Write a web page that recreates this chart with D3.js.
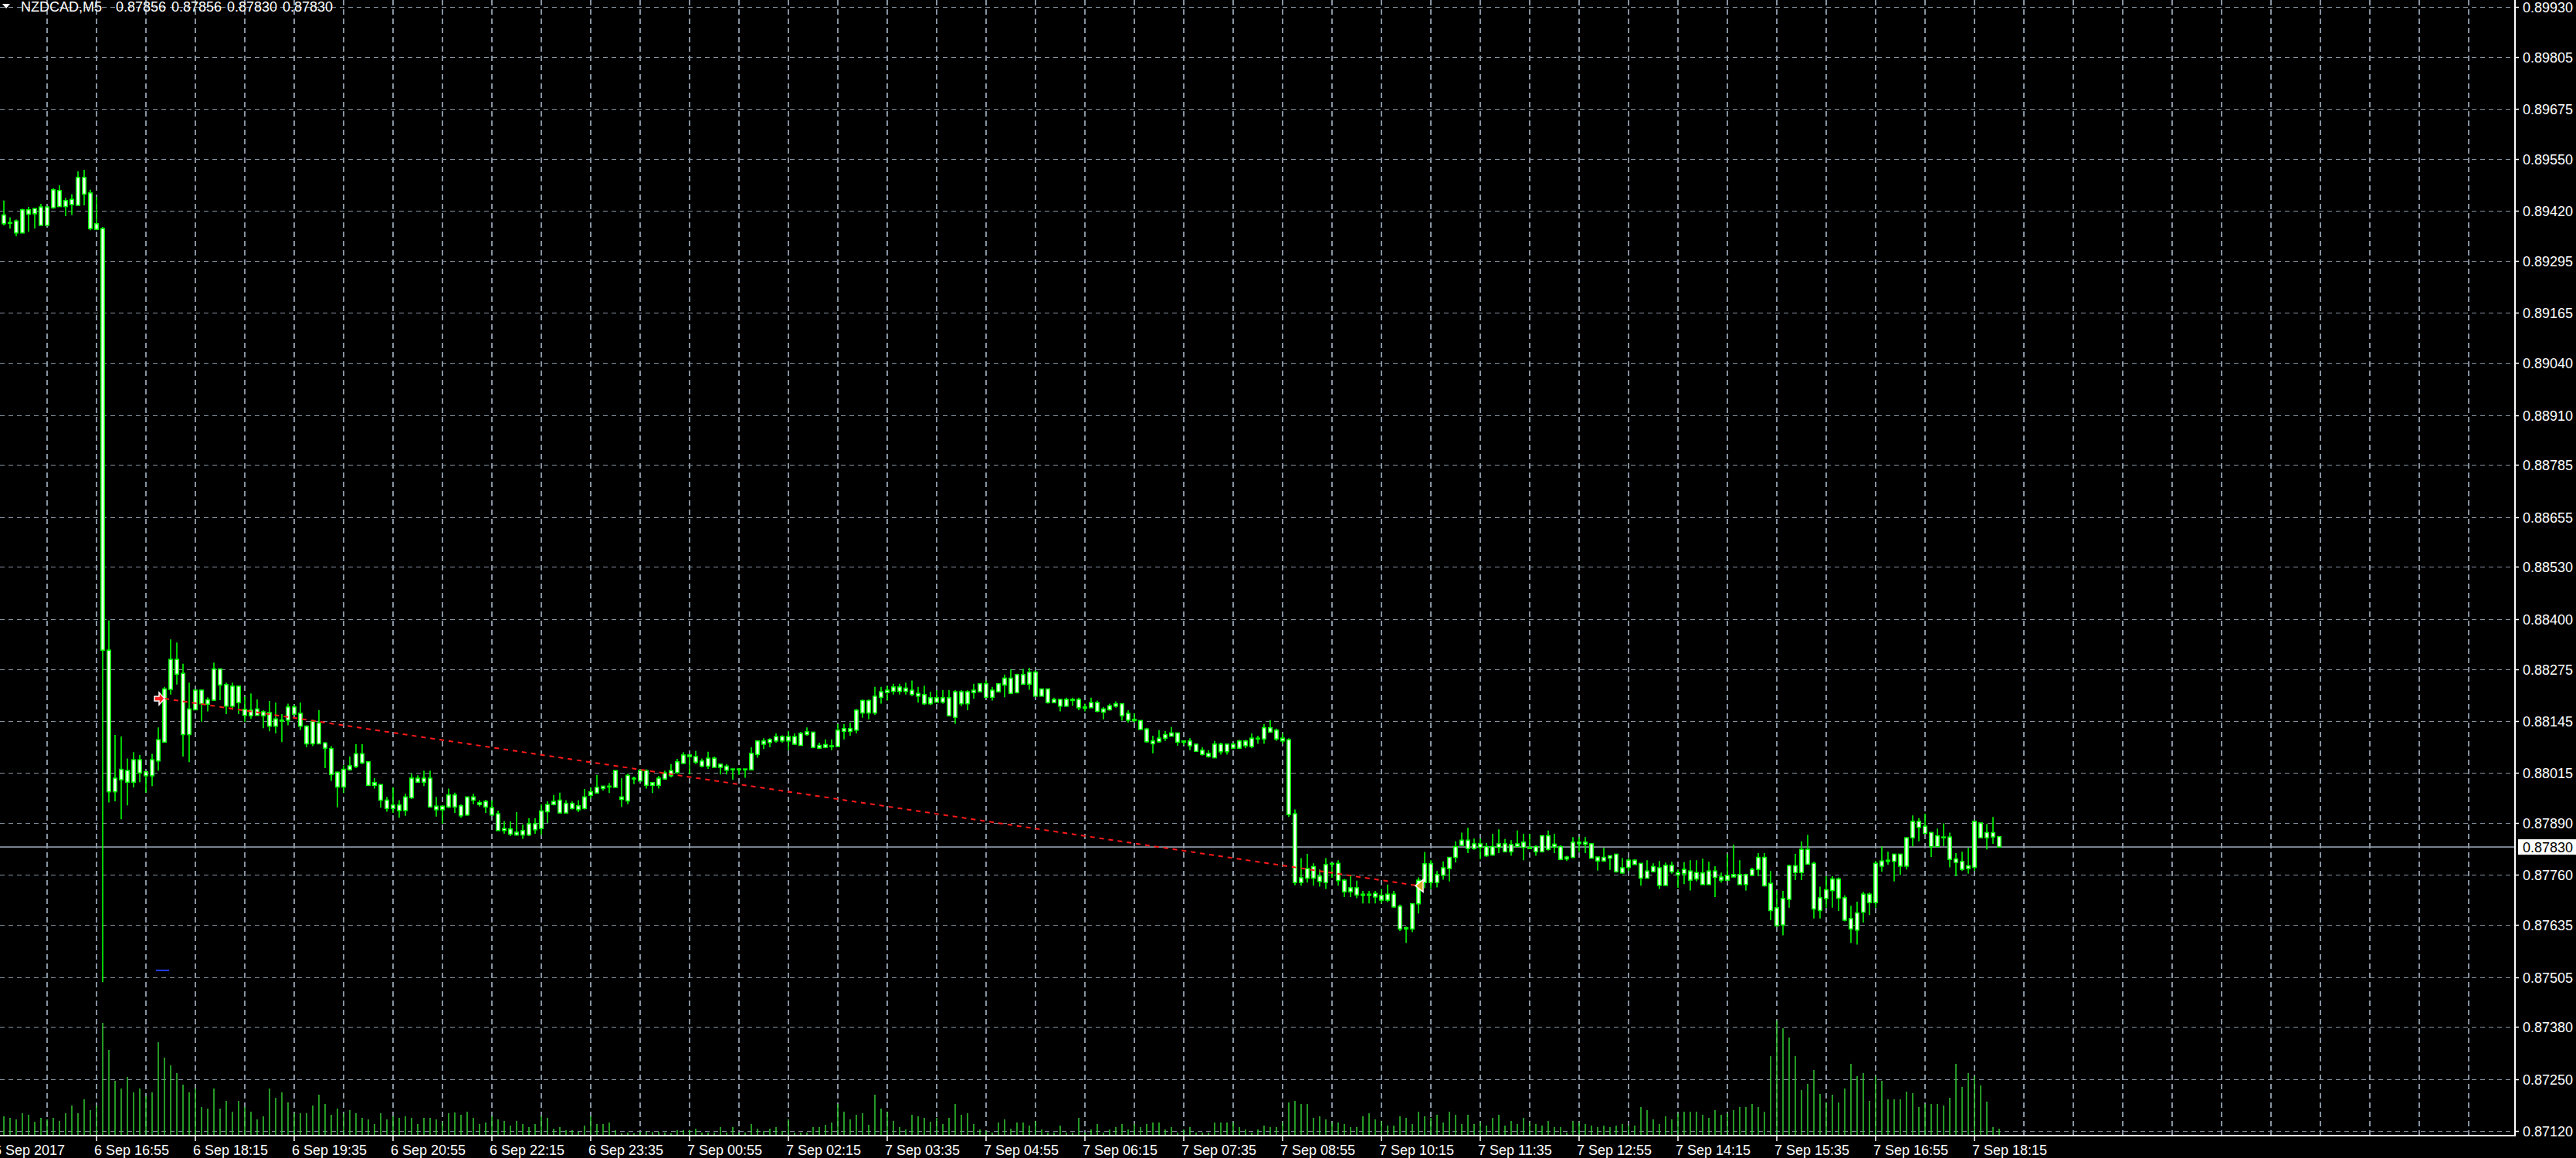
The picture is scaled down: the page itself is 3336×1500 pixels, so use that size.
<!DOCTYPE html>
<html><head><meta charset="utf-8">
<script src="https://cdn.jsdelivr.net/npm/d3@7"></script>
<style>
html,body{margin:0;padding:0;background:#000;overflow:hidden}
svg{display:block}
text{font-family:"Liberation Sans",Arial,sans-serif;font-size:18px}
</style>
</head><body>
<svg id="chart" width="3336" height="1500"></svg>
<script>
// ---------------- DATA ----------------
const symbolTitle = "NZDCAD,M5";
const lastOHLC = ["0.87856", "0.87856", "0.87830", "0.87830"];

const open = [0.89388,0.89391,0.89395,0.89365,0.89423,0.89413,0.89430,0.89384,0.89428,0.89471,0.89431,0.89449,0.89434,0.89504,0.89465,0.89374,
0.89376,0.88322,0.87968,0.87998,0.88021,0.87992,0.88048,0.88018,0.88008,0.88045,0.88092,0.88224,0.88299,0.88264,0.88111,0.88173,
0.88222,0.88187,0.88197,0.88275,0.88236,0.88182,0.88232,0.88174,0.88158,0.88175,0.88158,0.88166,0.88132,0.88147,0.88147,0.88180,
0.88164,0.88132,0.88088,0.88140,0.88090,0.88076,0.88017,0.87980,0.88023,0.88031,0.88063,0.88043,0.87984,0.87986,0.87947,0.87926,
0.87935,0.87921,0.87953,0.88002,0.87992,0.88002,0.87932,0.87923,0.87930,0.87960,0.87933,0.87910,0.87955,0.87941,0.87930,0.87928,
0.87913,0.87871,0.87875,0.87860,0.87871,0.87860,0.87888,0.87876,0.87918,0.87936,0.87947,0.87915,0.87939,0.87923,0.87926,0.87959,
0.87965,0.87982,0.87980,0.87979,0.87955,0.87945,0.88002,0.87995,0.88021,0.87984,0.87984,0.88000,0.88008,0.88016,0.88039,0.88060,
0.88056,0.88045,0.88032,0.88052,0.88029,0.88032,0.88023,0.88025,0.88023,0.88023,0.88061,0.88095,0.88091,0.88095,0.88106,0.88095,
0.88106,0.88084,0.88111,0.88117,0.88077,0.88086,0.88081,0.88081,0.88119,0.88126,0.88122,0.88165,0.88196,0.88165,0.88204,0.88216,
0.88219,0.88230,0.88219,0.88222,0.88214,0.88211,0.88188,0.88203,0.88192,0.88203,0.88154,0.88218,0.88188,0.88216,0.88218,0.88238,
0.88204,0.88218,0.88235,0.88252,0.88216,0.88261,0.88237,0.88267,0.88207,0.88225,0.88191,0.88199,0.88182,0.88199,0.88199,0.88177,
0.88178,0.88191,0.88167,0.88173,0.88182,0.88188,0.88164,0.88146,0.88146,0.88125,0.88095,0.88093,0.88102,0.88107,0.88115,0.88092,
0.88095,0.88087,0.88072,0.88064,0.88053,0.88087,0.88068,0.88087,0.88077,0.88095,0.88081,0.88102,0.88100,0.88128,0.88122,0.88102,
0.88098,0.87913,0.87741,0.87752,0.87781,0.87757,0.87741,0.87787,0.87789,0.87747,0.87718,0.87728,0.87709,0.87712,0.87705,0.87709,
0.87697,0.87712,0.87682,0.87625,0.87625,0.87688,0.87741,0.87788,0.87741,0.87759,0.87776,0.87804,0.87834,0.87847,0.87826,0.87838,
0.87831,0.87810,0.87829,0.87838,0.87818,0.87831,0.87842,0.87829,0.87831,0.87818,0.87858,0.87830,0.87831,0.87800,0.87804,0.87842,
0.87837,0.87838,0.87805,0.87795,0.87802,0.87812,0.87765,0.87779,0.87797,0.87789,0.87752,0.87768,0.87778,0.87734,0.87784,0.87766,
0.87763,0.87770,0.87750,0.87765,0.87736,0.87770,0.87755,0.87747,0.87755,0.87761,0.87736,0.87759,0.87774,0.87804,0.87739,0.87678,
0.87635,0.87699,0.87783,0.87766,0.87824,0.87789,0.87671,0.87701,0.87721,0.87750,0.87703,0.87651,0.87622,0.87667,0.87712,0.87691,
0.87795,0.87794,0.87794,0.87812,0.87782,0.87853,0.87894,0.87882,0.87866,0.87831,0.87855,0.87855,0.87800,0.87794,0.87776,0.87779,
0.87890,0.87853,0.87866,0.87856];

const high = [0.89446,0.89404,0.89399,0.89426,0.89430,0.89426,0.89438,0.89430,0.89477,0.89484,0.89453,0.89462,0.89519,0.89523,0.89473,0.89455,
0.89380,0.88396,0.88110,0.88106,0.88051,0.88067,0.88060,0.88018,0.88063,0.88129,0.88230,0.88349,0.88341,0.88288,0.88241,0.88224,
0.88224,0.88204,0.88291,0.88276,0.88241,0.88241,0.88232,0.88206,0.88214,0.88199,0.88172,0.88195,0.88191,0.88162,0.88188,0.88185,
0.88191,0.88134,0.88148,0.88172,0.88092,0.88082,0.88018,0.88034,0.88056,0.88087,0.88087,0.88043,0.88002,0.87986,0.87955,0.87979,
0.87947,0.87963,0.88013,0.88009,0.88021,0.88021,0.87955,0.87934,0.87976,0.87966,0.87937,0.87955,0.87963,0.87947,0.87948,0.87947,
0.87921,0.87895,0.87894,0.87917,0.87886,0.87902,0.87902,0.87937,0.87944,0.87960,0.87966,0.87947,0.87944,0.87947,0.87975,0.87979,
0.88010,0.87982,0.87990,0.88021,0.88002,0.88013,0.88006,0.88024,0.88024,0.87991,0.88008,0.88021,0.88037,0.88050,0.88067,0.88061,
0.88070,0.88051,0.88068,0.88056,0.88037,0.88037,0.88025,0.88027,0.88025,0.88079,0.88095,0.88102,0.88102,0.88114,0.88109,0.88120,
0.88114,0.88118,0.88129,0.88118,0.88091,0.88099,0.88099,0.88137,0.88137,0.88141,0.88175,0.88199,0.88199,0.88230,0.88230,0.88233,
0.88238,0.88238,0.88241,0.88246,0.88230,0.88233,0.88218,0.88222,0.88222,0.88222,0.88222,0.88222,0.88222,0.88238,0.88238,0.88246,
0.88230,0.88238,0.88261,0.88274,0.88263,0.88275,0.88278,0.88272,0.88225,0.88225,0.88203,0.88201,0.88203,0.88203,0.88203,0.88188,
0.88203,0.88196,0.88180,0.88188,0.88194,0.88188,0.88172,0.88164,0.88146,0.88128,0.88108,0.88122,0.88120,0.88130,0.88115,0.88095,
0.88102,0.88087,0.88079,0.88072,0.88095,0.88091,0.88087,0.88091,0.88098,0.88098,0.88114,0.88108,0.88137,0.88147,0.88126,0.88114,
0.88102,0.87924,0.87802,0.87813,0.87789,0.87774,0.87802,0.87789,0.87797,0.87750,0.87760,0.87746,0.87720,0.87720,0.87720,0.87725,
0.87736,0.87720,0.87686,0.87631,0.87689,0.87754,0.87817,0.87797,0.87770,0.87794,0.87804,0.87844,0.87866,0.87878,0.87851,0.87851,
0.87840,0.87863,0.87874,0.87850,0.87847,0.87871,0.87863,0.87863,0.87834,0.87858,0.87871,0.87863,0.87834,0.87808,0.87855,0.87855,
0.87855,0.87840,0.87805,0.87828,0.87808,0.87813,0.87802,0.87802,0.87799,0.87789,0.87797,0.87789,0.87795,0.87791,0.87793,0.87774,
0.87792,0.87797,0.87797,0.87801,0.87793,0.87782,0.87766,0.87812,0.87836,0.87797,0.87763,0.87778,0.87815,0.87815,0.87770,0.87721,
0.87720,0.87786,0.87813,0.87844,0.87860,0.87793,0.87731,0.87757,0.87757,0.87754,0.87709,0.87683,0.87693,0.87718,0.87716,0.87795,
0.87831,0.87818,0.87813,0.87813,0.87855,0.87909,0.87902,0.87913,0.87868,0.87876,0.87889,0.87866,0.87815,0.87818,0.87828,0.87894,
0.87890,0.87887,0.87905,0.87856];

const low = [0.89384,0.89376,0.89357,0.89365,0.89368,0.89376,0.89384,0.89384,0.89426,0.89430,0.89407,0.89410,0.89434,0.89434,0.89372,0.89372,
0.87492,0.87941,0.87944,0.87899,0.87934,0.87979,0.87992,0.87966,0.87982,0.88021,0.88092,0.88211,0.88236,0.88056,0.88042,0.88172,
0.88143,0.88169,0.88195,0.88197,0.88162,0.88173,0.88162,0.88143,0.88150,0.88159,0.88127,0.88119,0.88114,0.88092,0.88134,0.88162,
0.88122,0.88079,0.88082,0.88088,0.88027,0.87995,0.87929,0.87965,0.88021,0.88027,0.88037,0.87982,0.87976,0.87928,0.87918,0.87915,
0.87903,0.87908,0.87950,0.87992,0.87982,0.87930,0.87906,0.87888,0.87927,0.87915,0.87903,0.87908,0.87937,0.87931,0.87915,0.87908,
0.87871,0.87863,0.87857,0.87858,0.87850,0.87857,0.87863,0.87860,0.87890,0.87934,0.87915,0.87915,0.87924,0.87917,0.87924,0.87952,
0.87965,0.87971,0.87965,0.87978,0.87930,0.87937,0.87987,0.87995,0.87976,0.87965,0.87976,0.87998,0.88004,0.88013,0.88037,0.88011,
0.88037,0.88029,0.88025,0.88029,0.88011,0.88011,0.87998,0.88010,0.88003,0.88023,0.88053,0.88075,0.88079,0.88091,0.88091,0.88072,
0.88085,0.88084,0.88108,0.88077,0.88075,0.88077,0.88072,0.88081,0.88099,0.88108,0.88114,0.88153,0.88149,0.88160,0.88188,0.88196,
0.88211,0.88211,0.88211,0.88207,0.88191,0.88185,0.88185,0.88191,0.88188,0.88158,0.88138,0.88182,0.88172,0.88201,0.88218,0.88204,
0.88196,0.88218,0.88204,0.88212,0.88214,0.88237,0.88223,0.88207,0.88207,0.88188,0.88191,0.88169,0.88180,0.88183,0.88172,0.88169,
0.88178,0.88167,0.88149,0.88171,0.88178,0.88146,0.88141,0.88141,0.88122,0.88091,0.88064,0.88091,0.88095,0.88106,0.88083,0.88085,
0.88072,0.88068,0.88059,0.88053,0.88053,0.88061,0.88061,0.88075,0.88075,0.88077,0.88077,0.88088,0.88088,0.88117,0.88095,0.88088,
0.87905,0.87734,0.87733,0.87741,0.87733,0.87731,0.87725,0.87753,0.87733,0.87705,0.87705,0.87702,0.87689,0.87689,0.87689,0.87689,
0.87692,0.87678,0.87620,0.87590,0.87617,0.87664,0.87727,0.87725,0.87729,0.87748,0.87744,0.87791,0.87832,0.87815,0.87823,0.87799,
0.87805,0.87808,0.87815,0.87818,0.87808,0.87831,0.87797,0.87826,0.87808,0.87818,0.87821,0.87815,0.87797,0.87795,0.87802,0.87818,
0.87815,0.87802,0.87771,0.87793,0.87773,0.87766,0.87763,0.87770,0.87786,0.87733,0.87752,0.87768,0.87725,0.87733,0.87763,0.87728,
0.87737,0.87721,0.87744,0.87736,0.87736,0.87705,0.87741,0.87747,0.87755,0.87736,0.87721,0.87757,0.87757,0.87731,0.87647,0.87631,
0.87609,0.87678,0.87747,0.87747,0.87786,0.87651,0.87651,0.87678,0.87678,0.87670,0.87644,0.87590,0.87586,0.87641,0.87660,0.87678,
0.87768,0.87786,0.87744,0.87760,0.87774,0.87831,0.87844,0.87863,0.87805,0.87830,0.87832,0.87779,0.87757,0.87770,0.87763,0.87770,
0.87853,0.87824,0.87838,0.87830];

const close = [0.89410,0.89389,0.89365,0.89423,0.89412,0.89426,0.89384,0.89430,0.89473,0.89431,0.89446,0.89436,0.89504,0.89462,0.89376,0.89388,
0.88322,0.87968,0.88002,0.88024,0.87992,0.88048,0.88015,0.88008,0.88048,0.88098,0.88225,0.88299,0.88262,0.88111,0.88175,0.88222,
0.88188,0.88198,0.88275,0.88235,0.88182,0.88232,0.88191,0.88159,0.88172,0.88159,0.88168,0.88132,0.88150,0.88145,0.88180,0.88162,
0.88132,0.88088,0.88144,0.88088,0.88077,0.88011,0.87980,0.88024,0.88033,0.88063,0.88040,0.87984,0.87991,0.87947,0.87926,0.87935,
0.87921,0.87955,0.88002,0.87992,0.88002,0.87930,0.87923,0.87932,0.87960,0.87930,0.87908,0.87955,0.87947,0.87936,0.87944,0.87910,
0.87871,0.87876,0.87862,0.87867,0.87860,0.87888,0.87873,0.87920,0.87936,0.87944,0.87915,0.87939,0.87926,0.87933,0.87955,0.87968,
0.87979,0.87976,0.87982,0.88021,0.87949,0.88009,0.88000,0.88021,0.87984,0.87991,0.88002,0.88015,0.88021,0.88043,0.88060,0.88056,
0.88042,0.88032,0.88052,0.88029,0.88037,0.88022,0.88025,0.88023,0.88025,0.88064,0.88095,0.88087,0.88099,0.88106,0.88095,0.88106,
0.88087,0.88114,0.88118,0.88079,0.88084,0.88079,0.88083,0.88122,0.88126,0.88119,0.88172,0.88196,0.88165,0.88207,0.88218,0.88222,
0.88230,0.88219,0.88227,0.88211,0.88207,0.88188,0.88203,0.88192,0.88203,0.88158,0.88218,0.88188,0.88218,0.88222,0.88238,0.88204,
0.88222,0.88238,0.88252,0.88214,0.88261,0.88237,0.88267,0.88207,0.88225,0.88191,0.88199,0.88182,0.88199,0.88196,0.88178,0.88180,
0.88191,0.88169,0.88175,0.88183,0.88188,0.88158,0.88147,0.88149,0.88124,0.88093,0.88088,0.88102,0.88111,0.88115,0.88092,0.88095,
0.88083,0.88069,0.88061,0.88056,0.88087,0.88068,0.88087,0.88077,0.88095,0.88083,0.88102,0.88100,0.88128,0.88117,0.88100,0.88095,
0.87911,0.87741,0.87753,0.87776,0.87752,0.87744,0.87786,0.87789,0.87746,0.87718,0.87728,0.87710,0.87712,0.87709,0.87714,0.87697,
0.87712,0.87680,0.87625,0.87628,0.87688,0.87747,0.87788,0.87741,0.87761,0.87778,0.87804,0.87831,0.87847,0.87826,0.87838,0.87829,
0.87808,0.87831,0.87838,0.87818,0.87836,0.87838,0.87829,0.87826,0.87818,0.87858,0.87824,0.87837,0.87799,0.87805,0.87842,0.87838,
0.87842,0.87802,0.87795,0.87804,0.87808,0.87768,0.87778,0.87797,0.87786,0.87752,0.87770,0.87781,0.87734,0.87784,0.87768,0.87760,
0.87774,0.87747,0.87766,0.87736,0.87770,0.87754,0.87747,0.87759,0.87761,0.87736,0.87761,0.87774,0.87804,0.87733,0.87671,0.87633,
0.87701,0.87783,0.87766,0.87824,0.87787,0.87675,0.87703,0.87723,0.87750,0.87702,0.87647,0.87625,0.87665,0.87712,0.87691,0.87789,
0.87782,0.87797,0.87812,0.87782,0.87853,0.87894,0.87879,0.87864,0.87831,0.87858,0.87853,0.87799,0.87791,0.87774,0.87783,0.87894,
0.87853,0.87866,0.87855,0.87830];

const volume = [24,22,20,28,26,17,22,20,22,18,28,38,28,46,32,38,
145,110,70,60,75,55,60,50,55,120,100,90,80,65,55,60,
36,34,60,34,44,30,44,36,30,20,24,60,48,55,42,28,
28,28,38,52,40,26,34,28,32,28,22,20,14,28,20,24,
22,24,22,14,22,22,20,17,28,29,26,30,22,14,16,24,
20,18,12,18,14,10,14,24,22,8,10,6,6,4,12,24,
14,14,16,6,2,3,2,4,4,4,4,3,2,6,6,6,
8,3,3,3,10,3,10,3,3,14,8,5,8,10,5,20,
3,3,3,10,10,13,16,40,30,20,26,28,13,52,34,30,
18,10,7,26,24,22,17,22,14,22,40,26,28,14,7,5,
3,16,20,8,16,16,12,18,7,3,3,12,3,3,22,3,
7,14,3,7,10,14,7,14,10,14,16,16,7,10,3,7,
10,3,3,3,16,16,16,16,10,7,3,7,12,10,10,16,
42,44,40,40,22,24,20,16,16,14,10,10,24,28,20,18,
12,12,24,22,14,30,24,22,26,16,30,26,14,26,14,16,
12,22,26,12,18,14,22,16,14,12,18,10,10,3,18,16,
14,12,10,12,10,12,14,12,12,36,32,20,14,24,20,28,
30,30,30,26,22,32,26,28,32,36,36,40,36,30,102,148,
138,126,102,58,66,84,53,42,52,42,60,92,76,80,44,76,
70,46,46,46,56,54,36,40,40,40,38,48,92,62,80,76,
64,43,10,8];

const priceTicks = ["0.89930","0.89805","0.89675","0.89550","0.89420","0.89295","0.89165","0.89040","0.88910","0.88785","0.88655","0.88530",
"0.88400","0.88275","0.88145","0.88015","0.87890","0.87760","0.87635","0.87505","0.87380","0.87250","0.87120"];

const timeLabels = ["6 Sep 2017","6 Sep 16:55","6 Sep 18:15","6 Sep 19:35","6 Sep 20:55","6 Sep 22:15","6 Sep 23:35",
"7 Sep 00:55","7 Sep 02:15","7 Sep 03:35","7 Sep 04:55","7 Sep 06:15","7 Sep 07:35","7 Sep 08:55","7 Sep 10:15",
"7 Sep 11:35","7 Sep 12:55","7 Sep 14:15","7 Sep 15:35","7 Sep 16:55","7 Sep 18:15"];
const timeLabelBar = [-1.25,15,31,47,63,79,95,111,127,143,159,175,191,207,223,239,255,271,287,303,319];

const tradeBar = [26, 229];
const tradePrice = [0.88201, 0.87733];
const currentPrice = 0.87830;

// ---------------- DRAW ----------------
const W = 3336, H = 1500;
const plotRight = 3257, plotBottom = 1471;
const svg = d3.select("#chart");
svg.append("rect").attr("width", W).attr("height", H).attr("fill", "#000");

const x = d3.scaleLinear().domain([0, 406]).range([5, 5 + 8 * 406]);
const y = d3.scaleLinear().domain([0.87120, 0.89930]).range([1465, 9]);
const yv = d3.scaleLinear().domain([0, 150]).range([1470, 1320]);

const GRID = "#8693a1";
const gridG = svg.append("g").attr("shape-rendering", "crispEdges");
// horizontal grid
gridG.selectAll("line.h").data(priceTicks).join("line")
  .attr("x1", 0).attr("x2", plotRight)
  .attr("y1", d => Math.round(y(+d)) + 0.5).attr("y2", d => Math.round(y(+d)) + 0.5)
  .attr("stroke", GRID).attr("stroke-width", 1.5).attr("stroke-dasharray", "6,5");
// vertical grid every 8 bars
const gridBars = d3.range(7, 400, 8);
gridG.selectAll("line.v").data(gridBars).join("line")
  .attr("x1", d => x(d)).attr("x2", d => x(d))
  .attr("y1", 0).attr("y2", plotBottom)
  .attr("stroke", GRID).attr("stroke-width", 1.5).attr("stroke-dasharray", "7,5");

// current price line
svg.append("line").attr("x1", 0).attr("x2", plotRight)
  .attr("y1", y(currentPrice)).attr("y2", y(currentPrice))
  .attr("stroke", "#8d99a6").attr("stroke-width", 1.6);

const bars = open.map((o, i) => ({ i, o, h: high[i], l: low[i], c: close[i], v: volume[i] }));

// volumes
svg.append("g").selectAll("line").data(bars).join("line")
  .attr("x1", d => x(d.i)).attr("x2", d => x(d.i))
  .attr("y1", yv(0)).attr("y2", d => yv(d.v))
  .attr("stroke", "#32cd32").attr("stroke-width", 1.5);

// candles
const GREEN = "#00ff00";
const cg = svg.append("g");
cg.selectAll("line").data(bars).join("line")
  .attr("x1", d => x(d.i)).attr("x2", d => x(d.i))
  .attr("y1", d => y(d.h)).attr("y2", d => y(d.l))
  .attr("stroke", GREEN).attr("stroke-width", 1.6);
cg.selectAll("rect").data(bars).join("rect")
  .attr("x", d => x(d.i) - 2.25).attr("width", 4.5)
  .attr("y", d => y(Math.max(d.o, d.c)))
  .attr("height", d => Math.max(0.01, y(Math.min(d.o, d.c)) - y(Math.max(d.o, d.c))))
  .attr("fill", "#fff").attr("stroke", GREEN).attr("stroke-width", 1.5);

// blue marker
svg.append("line").attr("x1", 202).attr("x2", 219).attr("y1", 1257).attr("y2", 1257)
  .attr("stroke", "#1e3cff").attr("stroke-width", 2);

// trade line
const tx0 = x(tradeBar[0]), ty0 = y(tradePrice[0]), tx1 = x(tradeBar[1]), ty1 = y(tradePrice[1]);
svg.append("line").attr("x1", tx0).attr("y1", ty0).attr("x2", tx1).attr("y2", ty1)
  .attr("stroke", "#ff1a1a").attr("stroke-width", 2).attr("stroke-dasharray", "6,6");
// open arrow (red, pointing right)
svg.append("path")
  .attr("d", `M${tx0-13},${ty0-3} L${tx0-7},${ty0-3} L${tx0-7},${ty0-8} L${tx0},${ty0} L${tx0-7},${ty0+8} L${tx0-7},${ty0+3} L${tx0-13},${ty0+3} Z`)
  .attr("fill", "#ff2020").attr("stroke", "#fff").attr("stroke-width", 1.5);
// close marker (gold triangle pointing left)
svg.append("path")
  .attr("d", `M${tx1-4},${ty1} L${tx1+6},${ty1-8} L${tx1+6},${ty1+8} Z`)
  .attr("fill", "#daa520").attr("stroke", "#fff").attr("stroke-width", 1.5);

// axes lines
svg.append("line").attr("x1", plotRight).attr("x2", plotRight).attr("y1", 0).attr("y2", plotBottom + 1)
  .attr("stroke", "#fff").attr("stroke-width", 2);
svg.append("line").attr("x1", 0).attr("x2", plotRight + 1).attr("y1", plotBottom).attr("y2", plotBottom)
  .attr("stroke", "#fff").attr("stroke-width", 2);

// price axis labels
const pa = svg.append("g");
pa.selectAll("line").data(priceTicks).join("line")
  .attr("x1", plotRight).attr("x2", plotRight + 5)
  .attr("y1", d => Math.round(y(+d)) + 0.5).attr("y2", d => Math.round(y(+d)) + 0.5)
  .attr("stroke", "#fff").attr("stroke-width", 1.5);
pa.selectAll("text").data(priceTicks).join("text")
  .attr("x", 3267).attr("y", d => y(+d) + 7).attr("fill", "#fff").text(d => d);

// current price tag
svg.append("rect").attr("x", 3261).attr("y", y(currentPrice) - 10).attr("width", 75).attr("height", 20).attr("fill", "#fff");
svg.append("text").attr("x", 3267).attr("y", y(currentPrice) + 7).attr("fill", "#000").text(currentPrice.toFixed(5));

// time axis labels
const ta = svg.append("g");
ta.selectAll("line").data(timeLabelBar.slice(1)).join("line")
  .attr("x1", d => x(d)).attr("x2", d => x(d))
  .attr("y1", plotBottom).attr("y2", plotBottom + 7)
  .attr("stroke", "#fff").attr("stroke-width", 1.5);
ta.selectAll("text").data(timeLabels).join("text")
  .attr("x", (d, i) => x(timeLabelBar[i]) - 3).attr("y", 1496)
  .attr("fill", "#fff").text(d => d);

// header
svg.append("path").attr("d", "M3,5 L13,5 L8,11 Z").attr("fill", "#fff");
svg.append("text").attr("x", 27).attr("y", 15).attr("fill", "#fff").text(symbolTitle);
const hx = [150, 222, 294, 366];
svg.append("g").selectAll("text").data(lastOHLC).join("text")
  .attr("x", (d, i) => hx[i]).attr("y", 15).attr("fill", "#fff").text(d => d);
</script>
</body></html>
